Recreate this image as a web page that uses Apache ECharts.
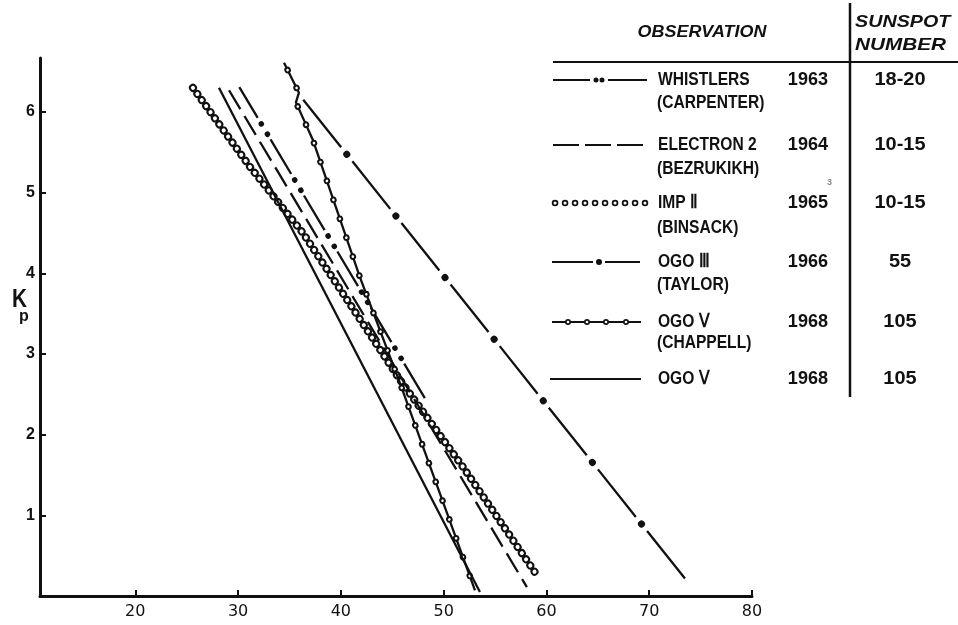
<!DOCTYPE html>
<html>
<head>
<meta charset="utf-8">
<script src="https://cdn.jsdelivr.net/npm/echarts@6/dist/echarts.min.js"></script>
<style>
  html, body { margin: 0; padding: 0; background: #fff; }
  #chart { width: 958px; height: 625px; }
</style>
</head>
<body>
<div id="chart"></div>
<script>
// Plasmapause position against Kp for several observations
const xTicks = [20, 30, 40, 50, 60, 70, 80];
const yTicks = [1, 2, 3, 4, 5, 6];

// [x, Kp] vertices of each curve
const whistlers    = [[30.12, 6.31], [48.18, 2.45]];
const electron2    = [[29.12, 6.27], [58.10, 0.11]];
const imp2         = [[25.61, 6.30], [31.16, 5.32], [36.31, 4.50], [45.75, 2.68], [51.88, 1.60], [59.17, 0.24]];
const ogo3         = [[35.92, 6.22], [73.77, 0.17]];
const ogo5Chappell = [[34.47, 6.61], [35.92, 6.24], [35.63, 6.12], [37.29, 5.65], [41.86, 3.95], [45.75, 2.64], [53.05, 0.07]];
const ogo5         = [[28.14, 6.30], [53.53, 0.05]];

// legend table
const observations = ['WHISTLERS', 'ELECTRON 2', 'IMP \u2161', 'OGO \u2162', 'OGO \u2164', 'OGO \u2164'];
const observers    = ['(CARPENTER)', '(BEZRUKIKH)', '(BINSACK)', '(TAYLOR)', '(CHAPPELL)', ''];
const years        = ['1963', '1964', '1965', '1966', '1968', '1968'];
const sunspots     = ['18-20', '10-15', '10-15', '55', '105', '105'];

const INK = '#111';
const FONT = '"Liberation Sans", Arial, sans-serif';
const LW = 2.3;

const chart = echarts.init(document.getElementById('chart'), null, { renderer: 'canvas' });

// one stroke layer of a curve; patterned curves are built from several layers
function trace(name, data, width, dash, offset, cap, color) {
  return {
    type: 'line', name, data,
    symbol: 'none', silent: true, animation: false, clip: false,
    lineStyle: {
      color: color || INK, width,
      type: dash || 'solid', dashOffset: offset || 0,
      cap: cap || 'butt', join: 'round'
    }
  };
}

const series = [
  // IMP II: chain of open circles
  trace('IMP II', imp2, 8, [0.1, 7.4], 0, 'round'),
  trace('IMP II', imp2, 4, [0.1, 7.4], 0, 'round', '#fff'),
  // Electron 2: long dashes
  trace('ELECTRON 2', electron2, LW, [22, 8]),
  // Whistlers: dash, dot, dot
  trace('WHISTLERS', whistlers, LW, [40.25, 25], 4.25),
  trace('WHISTLERS', whistlers, 5.5, [0.1, 11.9, 0.1, 53.15], 22.35, 'round'),
  // OGO III: dash, dot
  trace('OGO III', ogo3, LW, [60.8, 18], 71.9),
  trace('OGO III', ogo3, 7, [0.1, 78.7], 2.1, 'round'),
  // OGO V (Chappell): line with small open markers
  trace('OGO V (CHAPPELL)', ogo5Chappell, LW),
  trace('OGO V (CHAPPELL)', ogo5Chappell, 6.5, [0.1, 19.9], 12, 'round'),
  trace('OGO V (CHAPPELL)', ogo5Chappell, 2.6, [0.1, 19.9], 12, 'round', '#fff'),
  // OGO V: plain line
  trace('OGO V', ogo5, LW)
];

// ---- legend table drawn as graphics ----
const g = [];
function txt(text, x, y, o) {
  o = o || {};
  g.push({
    type: 'text', x, y, scaleX: o.sx || 1, silent: true,
    style: {
      text, fill: o.color || INK,
      font: (o.italic ? 'italic ' : '') + 'bold ' + (o.size || 19) + 'px ' + FONT,
      align: o.align || 'left', verticalAlign: 'middle'
    }
  });
}
function seg(x1, y1, x2, y2, w, style) {
  g.push({
    type: 'line', silent: true,
    shape: { x1, y1, x2, y2 },
    style: Object.assign({ stroke: INK, lineWidth: w }, style || {})
  });
}
function dot(cx, cy, r, fill) {
  g.push({ type: 'circle', silent: true, shape: { cx, cy, r }, style: { fill: fill || INK } });
}

// header
txt('OBSERVATION', 702, 33, { italic: true, size: 16, sx: 1.12, align: 'center' });
txt('SUNSPOT', 855, 22, { italic: true, size: 17, sx: 1.16 });
txt('NUMBER', 855, 45, { italic: true, size: 17, sx: 1.22 });
seg(553, 62, 958, 62, 2);
seg(850, 3, 850, 397, 2.5);

const rowY = [80, 145, 203, 262, 322, 379];
const subY = [103, 169, 228, 285, 343, 0];
observations.forEach((name, i) => {
  txt(name, 658, rowY[i], { sx: 0.82 });
  if (observers[i]) txt(observers[i], 657, subY[i], { sx: 0.82 });
  txt(years[i], 828, rowY[i], { align: 'right', sx: 0.95 });
  txt(sunspots[i], 900, rowY[i], { align: 'center', sx: 1.05 });
});
txt('3', 827, 183, { size: 9, color: '#888' });

// legend line samples
let y = rowY[0];
seg(553, y, 590, y, 2); dot(596, y, 2.5); dot(602, y, 2.5); seg(608, y, 647, y, 2);
y = rowY[1];
seg(553, y, 647, y, 2, { lineDash: [26, 6] });
y = rowY[2];
seg(555, y, 645, y, 6.5, { lineDash: [0.1, 9.9], lineCap: 'round' });
seg(555, y, 645, y, 3, { lineDash: [0.1, 9.9], lineCap: 'round', stroke: '#fff' });
y = rowY[3];
seg(552, y, 593, y, 2); dot(599, y, 3); seg(605, y, 640, y, 2);
y = rowY[4];
seg(552, y, 641, y, 2);
[568, 587, 606, 626].forEach(cx => { dot(cx, y, 3); dot(cx, y, 1.3, '#fff'); });
y = rowY[5];
seg(550, y, 641, y, 2);

// axis name K with subscript p
txt('K', 12, 300, { size: 26, sx: 0.8 });
txt('p', 19, 317, { size: 16 });

chart.setOption({
  backgroundColor: '#fff',
  animation: false,
  grid: { left: 40, top: 58, width: 712, bottom: 29, outerBoundsMode: 'none' },
  xAxis: {
    type: 'value', min: 10.73, max: 80,
    axisLine: { lineStyle: { color: INK, width: 3 } },
    axisTick: { inside: true, length: 6, customValues: xTicks, lineStyle: { color: INK, width: 2 } },
    axisLabel: { customValues: xTicks, margin: 8, color: INK, fontSize: 16, fontFamily: '"DejaVu Sans", sans-serif' },
    splitLine: { show: false }
  },
  yAxis: {
    type: 'value', min: 0, max: 6.67,
    axisLine: { lineStyle: { color: INK, width: 3 } },
    axisTick: { inside: true, length: 6, customValues: yTicks, lineStyle: { color: INK, width: 2 } },
    axisLabel: { customValues: yTicks, margin: 5, color: INK, fontSize: 16, fontWeight: 'bold', fontFamily: FONT },
    splitLine: { show: false }
  },
  series,
  graphic: g
});
</script>
</body>
</html>
